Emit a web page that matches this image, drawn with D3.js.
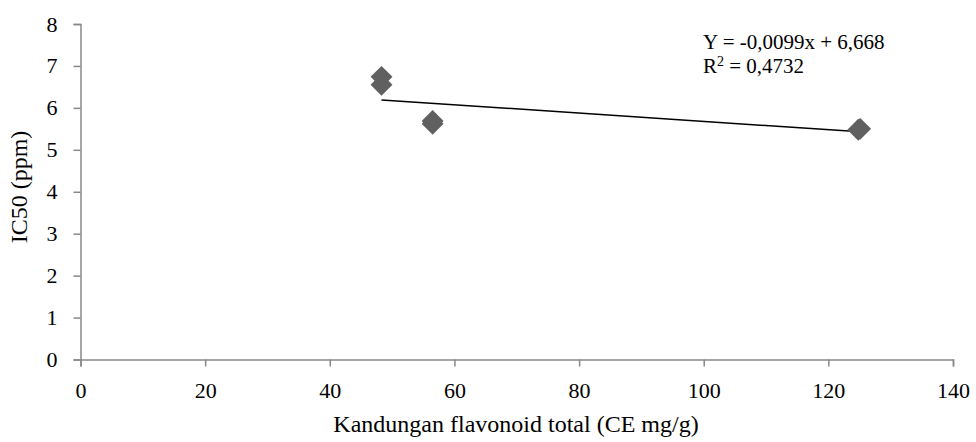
<!DOCTYPE html>
<html>
<head>
<meta charset="utf-8">
<script src="https://cdn.jsdelivr.net/npm/d3@7"></script>
<style>
    body { margin: 0; background: #fff; }
    svg text { font-family: "Liberation Serif", "Times New Roman", serif; fill: #000; }
    .axis path, .axis line { stroke: #898989; stroke-width: 1.5; }
</style>
</head>
<body>
<svg id="chart"></svg>
<script>
const flavonoid = [48.3, 48.3, 56.5, 56.5, 124.8, 125.1];
const ic50 = [6.74, 6.55, 5.62, 5.69, 5.48, 5.50];
const trendSlope = -0.0099;
const trendIntercept = 6.668;
const xTicks = [0, 20, 40, 60, 80, 100, 120, 140];
const yTicks = [0, 1, 2, 3, 4, 5, 6, 7, 8];
const equationLines = ['Y = -0,0099x + 6,668', 'R', '2', ' = 0,4732'];

const serif = '"Liberation Serif", "Times New Roman", serif';
const dimensions = { width: 976, height: 442 };
const plot = { left: 80.5, right: 953, top: 24, bottom: 359.5 };

const svg = d3.select('#chart')
    .attr('width', dimensions.width)
    .attr('height', dimensions.height);

const scales = {
    x: d3.scaleLinear().domain([0, 140]).range([plot.left, plot.right]),
    y: d3.scaleLinear().domain([0, 8]).range([plot.bottom, plot.top])
};

// axes
const xAxis = svg.append('g')
    .attr('class', 'axis')
    .attr('transform', `translate(0,${plot.bottom})`)
    .call(d3.axisBottom(scales.x).tickValues(xTicks).tickSizeOuter(0).tickSize(7).tickPadding(16));
const yAxis = svg.append('g')
    .attr('class', 'axis')
    .attr('transform', `translate(${plot.left},0)`)
    .call(d3.axisLeft(scales.y).tickValues(yTicks).tickSizeOuter(0).tickSize(7).tickPadding(16));

[xAxis, yAxis].forEach(g => {
    g.attr('font-family', serif).attr('font-size', 22);
    g.selectAll('text')
        .attr('font-family', serif)
        .attr('font-size', 22)
        .attr('fill', '#000');
});

// trendline over the data range
const xExtent = d3.extent(flavonoid);
svg.append('line')
    .attr('x1', scales.x(xExtent[0]))
    .attr('y1', scales.y(trendSlope * xExtent[0] + trendIntercept))
    .attr('x2', scales.x(xExtent[1]))
    .attr('y2', scales.y(trendSlope * xExtent[1] + trendIntercept))
    .attr('stroke', '#000')
    .attr('stroke-width', 1.5);

// diamond markers
const diamond = d3.symbol().type(d3.symbolSquare).size(240);
svg.append('g')
    .selectAll('path.point')
    .data(d3.range(flavonoid.length))
    .join('path')
    .classed('point', true)
    .attr('d', diamond)
    .attr('transform', i => `translate(${scales.x(flavonoid[i])},${scales.y(ic50[i])}) rotate(45)`)
    .attr('fill', '#606060');

// equation
svg.append('text')
    .attr('x', 703).attr('y', 49)
    .style('font-size', '21px')
    .text(equationLines[0]);
const r2 = svg.append('text')
    .attr('x', 703).attr('y', 73)
    .style('font-size', '21px');
r2.append('tspan').text(equationLines[1]);
r2.append('tspan').attr('dy', -7).style('font-size', '14px').text(equationLines[2]);
r2.append('tspan').attr('dy', 7).text(equationLines[3]);

// axis titles
svg.append('text')
    .attr('x', 516)
    .attr('y', 432)
    .attr('text-anchor', 'middle')
    .style('font-size', '24px')
    .text('Kandungan flavonoid total (CE mg/g)');

svg.append('text')
    .attr('transform', `translate(27,187) rotate(-90)`)
    .attr('text-anchor', 'middle')
    .style('font-size', '24px')
    .text('IC50 (ppm)');
</script>
</body>
</html>
